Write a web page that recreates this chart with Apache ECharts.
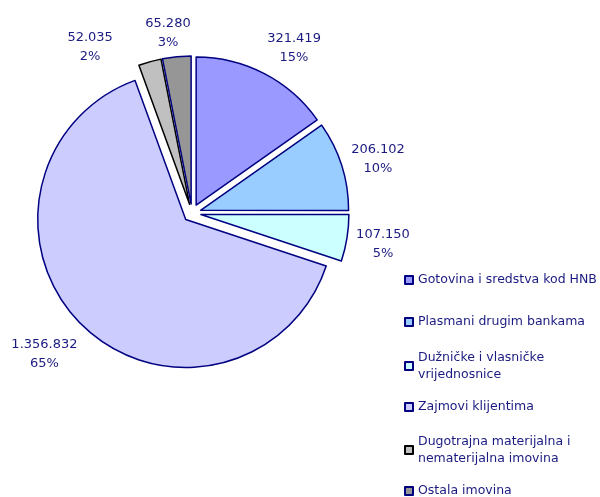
<!DOCTYPE html>
<html>
<head>
<meta charset="utf-8">
<script src="https://cdn.jsdelivr.net/npm/echarts@6/dist/echarts.min.js"></script>
<style>
html,body{margin:0;padding:0;background:#fff;}
#chart{width:600px;height:497px;}
</style>
</head>
<body>
<div id="chart"></div>
<script>
// ---- data ----
const categories = [
  'Gotovina i sredstva kod HNB',
  'Plasmani drugim bankama',
  'Dužničke i vlasničke vrijednosnice',
  'Zajmovi klijentima',
  'Dugotrajna materijalna i nematerijalna imovina',
  'Ostala imovina'
];
const values = [321419, 206102, 107150, 1356832, 52035, 65280];
const percentLabels = ['15%', '10%', '5%', '65%', '2%', '3%'];

// ---- styling / layout ----
const fills = ['#9999FF', '#99CCFF', '#CCFFFF', '#CCCCFF', '#C0C0C0', '#969696'];
const borders = ['#000080', '#000080', '#000080', '#000080', '#000000', '#000080'];
const textColor = '#1a1a80';
const font = 'DejaVu Sans';

const CX = 192, CY = 213, R = 148, EXPLODE = 9;
// label anchors in polar form around the pie centre: [distance px, angle deg clockwise from top]
const labelPolar = [[193.6, 31.8], [193.7, 73.8], [193.6, 99.4], [204.1, 226.3], [194.4, 328.4], [181.9, 352.4]];
// legend rows: vertical centre of first text line
const legendRows = [280, 322, 366, 407, 450, 491];

function fmtThousands(v) {
  return String(v).replace(/\B(?=(\d{3})+(?!\d))/g, '.');
}

const data = categories.map((name, i) => ({
  name: name,
  value: values[i],
  selected: true,
  itemStyle: { color: fills[i], borderColor: borders[i], borderWidth: 1.5 }
}));

const labelData = values.map((v, i) => ({
  value: labelPolar[i],
  label: { formatter: fmtThousands(v) + '\n' + percentLabels[i] }
}));

const legends = categories.map((name, i) => {
  const multi = name.length > 30;
  return {
    data: [name],
    orient: 'vertical',
    left: 404,
    top: multi ? legendRows[i] - 25.5 : legendRows[i] - 8.5,
    padding: 0,
    itemWidth: 8,
    itemHeight: 8,
    itemGap: 0,
    icon: 'rect',
    selectedMode: false,
    textStyle: {
      color: textColor,
      fontFamily: font,
      fontSize: 12.5,
      lineHeight: 17,
      width: multi ? 165 : undefined,
      overflow: multi ? 'break' : 'none',
      padding: multi ? [17, 0, 0, 0] : 0
    }
  };
});

const hiddenAxis = { show: false, axisLine: { show: false }, axisTick: { show: false }, axisLabel: { show: false }, splitLine: { show: false } };

const chart = echarts.init(document.getElementById('chart'), null, { renderer: 'canvas' });
chart.setOption({
  backgroundColor: '#ffffff',
  animation: false,
  legend: legends,
  polar: { center: [CX, CY], radius: 250 },
  angleAxis: Object.assign({ type: 'value', min: 0, max: 360, startAngle: 90, clockwise: true }, hiddenAxis),
  radiusAxis: Object.assign({ type: 'value', min: 0, max: 250 }, hiddenAxis),
  series: [{
    type: 'pie',
    center: [CX, CY],
    radius: [0, R],
    startAngle: 90,
    clockwise: true,
    selectedMode: 'multiple',
    selectedOffset: EXPLODE,
    avoidLabelOverlap: false,
    emphasis: { disabled: true, scale: false },
    data: data,
    label: { show: false },
    labelLine: { show: false }
  }, {
    type: 'scatter',
    coordinateSystem: 'polar',
    symbolSize: 0,
    silent: true,
    itemStyle: { opacity: 1, color: 'transparent' },
    data: labelData,
    label: {
      show: true,
      position: 'inside',
      color: textColor,
      opacity: 1,
      textBorderWidth: 0,
      textBorderColor: 'transparent',
      fontFamily: font,
      fontSize: 13,
      lineHeight: 19,
      align: 'center',
      verticalAlign: 'middle'
    },
    emphasis: { disabled: true }
  }]
});
</script>
</body>
</html>
